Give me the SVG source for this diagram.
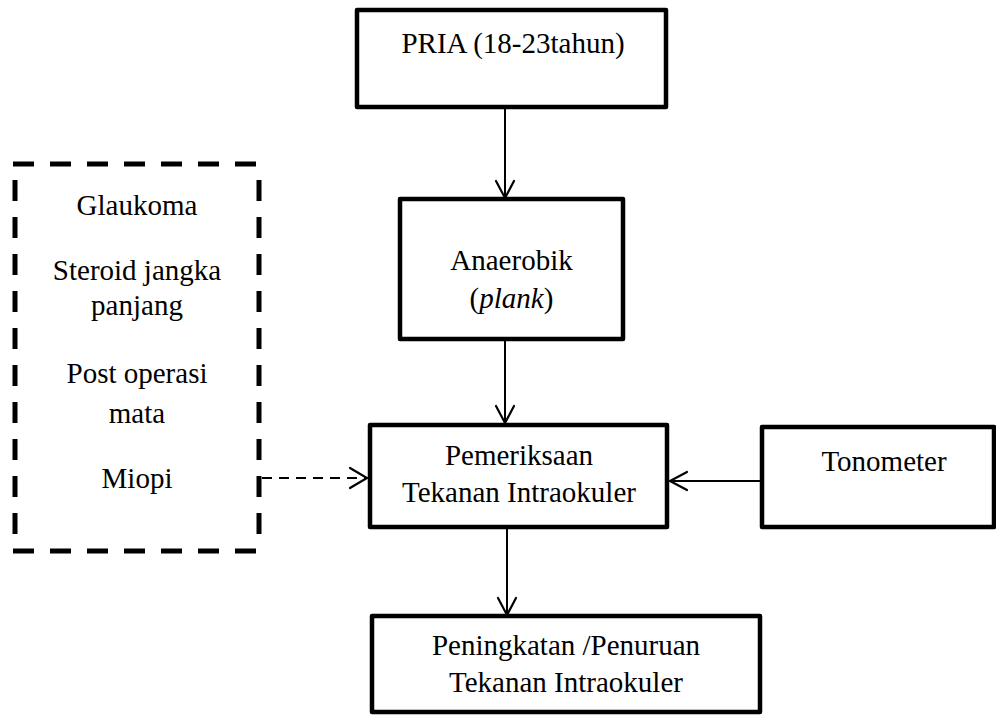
<svg xmlns="http://www.w3.org/2000/svg" width="996" height="715" viewBox="0 0 996 715">
<style>
.box{fill:#fff;stroke:#000;stroke-width:4.5;stroke-linejoin:round}
.dbox{fill:none;stroke:#000;stroke-width:5;stroke-dasharray:21 16}
.t{font-size:29px;fill:#000;text-anchor:middle}
.ln{fill:none;stroke:#000;stroke-width:2}
.dl{fill:none;stroke:#000;stroke-width:2;stroke-dasharray:10 7}
.ah{fill:none;stroke:#000;stroke-width:2.2;stroke-linecap:round;stroke-linejoin:miter}
</style>
<rect width="996" height="715" fill="#fff"/>
<g id="connectors">
<line class="ln" x1="505" y1="107" x2="505" y2="198"/>
<polyline class="ah" points="496,181 505,198 514,181"/>
<line class="ln" x1="505" y1="339" x2="505" y2="423"/>
<polyline class="ah" points="496,406 505,423 514,406"/>
<line class="ln" x1="507" y1="527" x2="507" y2="615"/>
<polyline class="ah" points="498,598 507,615 516,598"/>
<line class="ln" x1="762" y1="481" x2="670" y2="481"/>
<polyline class="ah" points="687,472 670,481 687,490"/>
<line class="dl" x1="262" y1="478" x2="366" y2="478"/>
<polyline class="ah" points="350,468 367,478 350,488"/>
</g>
<g font-family="Liberation Serif, Times New Roman, serif">
<g id="pria">
<rect class="box" x="357" y="10" width="309" height="97"/>
<text class="t" x="513" y="53">PRIA (18-23tahun)</text>
</g>
<g id="anaerobik">
<rect class="box" x="400" y="199" width="223" height="140"/>
<text class="t" x="511.5" y="270">Anaerobik</text>
<text class="t" x="511.5" y="308">(<tspan font-style="italic">plank</tspan>)</text>
</g>
<g id="pemeriksaan">
<rect class="box" x="370" y="425" width="297" height="102"/>
<text class="t" x="519" y="465">Pemeriksaan</text>
<text class="t" x="519" y="502">Tekanan Intraokuler</text>
</g>
<g id="tonometer">
<rect class="box" x="762" y="427" width="232" height="100"/>
<text class="t" x="884" y="471">Tonometer</text>
</g>
<g id="hasil">
<rect class="box" x="372" y="616" width="388" height="96"/>
<text class="t" x="566" y="655">Peningkatan /Penuruan</text>
<text class="t" x="566" y="692">Tekanan Intraokuler</text>
</g>
<g id="faktor">
<line class="dbox" x1="13" y1="164" x2="262" y2="164"/>
<line class="dbox" x1="13" y1="551" x2="262" y2="551"/>
<line class="dbox" x1="15" y1="180" x2="15" y2="540"/>
<line class="dbox" x1="259" y1="180" x2="259" y2="540"/>
<text class="t" x="137" y="215">Glaukoma</text>
<text class="t" x="137" y="280">Steroid jangka</text>
<text class="t" x="137" y="315">panjang</text>
<text class="t" x="137" y="383">Post operasi</text>
<text class="t" x="137" y="423">mata</text>
<text class="t" x="137" y="488">Miopi</text>
</g>
</g>
</svg>
